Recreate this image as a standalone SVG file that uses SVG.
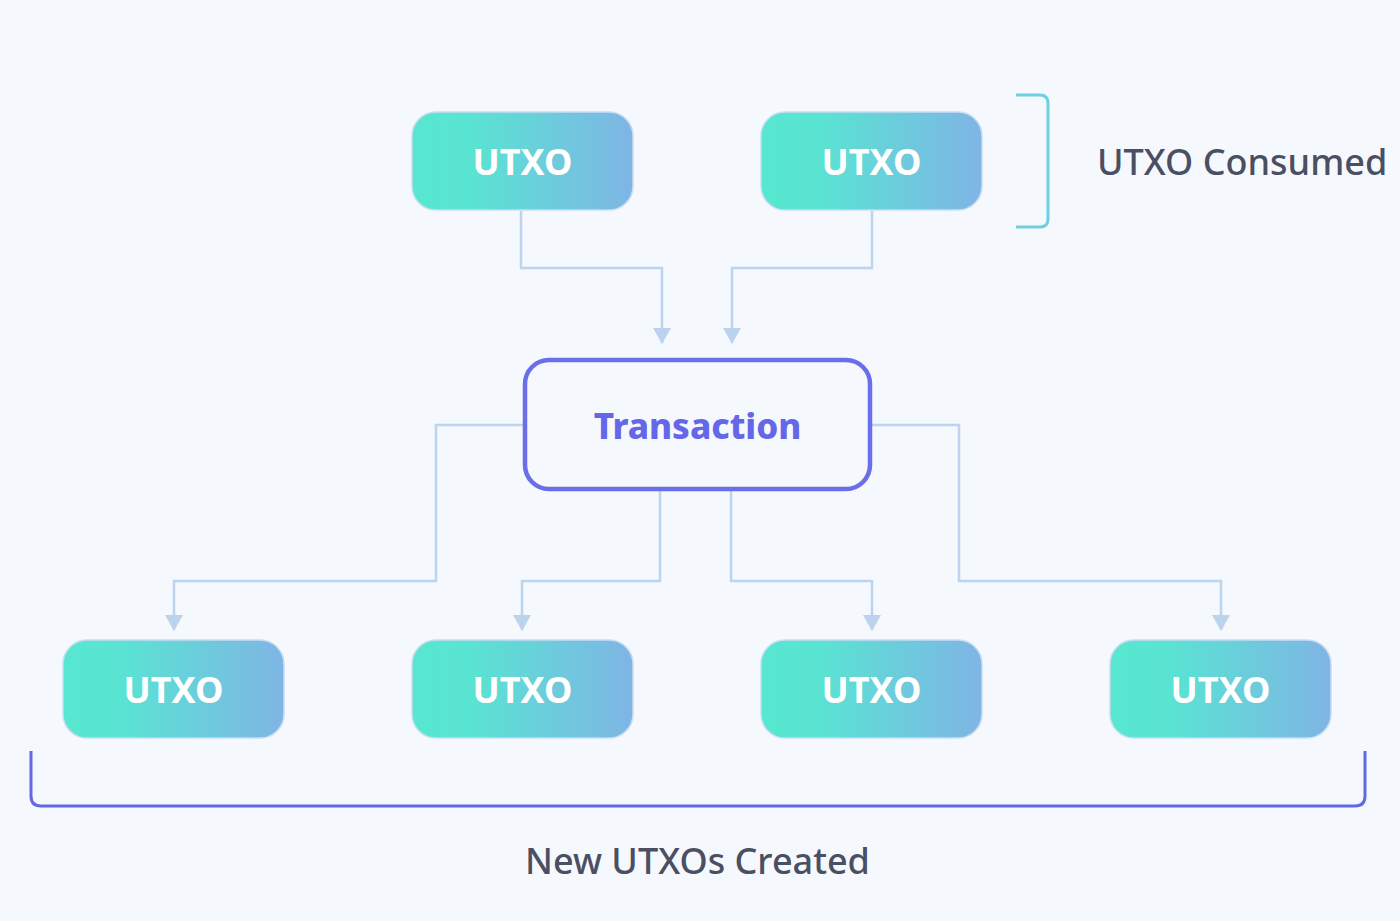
<svg xmlns="http://www.w3.org/2000/svg" width="1400" height="921" viewBox="0 0 1400 921">
<defs>
<linearGradient id="g" x1="0" y1="0" x2="1" y2="0">
<stop offset="0" stop-color="#57e7d0"/>
<stop offset="0.25" stop-color="#59e4d2"/>
<stop offset="1" stop-color="#7fb5e5"/>
</linearGradient>
<marker id="ah" markerWidth="16" markerHeight="18" refX="15" refY="9" orient="auto" markerUnits="userSpaceOnUse">
<path d="M0,0 L16,9 L0,18 z" fill="#bcd3ee"/>
</marker>
<style>
.utxo rect{fill:url(#g);stroke:#c9dcf3;stroke-width:1.5}
.utxo text{font-family:"Noto Sans","Liberation Sans",sans-serif;font-size:36px;font-weight:700;fill:#ffffff;text-anchor:middle}
.conn path{fill:none;stroke:#bdd4ee;stroke-width:2.5}
.lbl{font-family:"Noto Sans","Liberation Sans",sans-serif;font-size:36px;font-weight:500;fill:#4a4f62}
</style>
</defs>
<rect width="1400" height="921" fill="#f5f8fd"/>

<g id="connectors" class="conn">
<path d="M521,211 V268 H662 V343" marker-end="url(#ah)"/>
<path d="M872,211 V268 H732 V343" marker-end="url(#ah)"/>
<path d="M523,425 H436 V581 H174 V630" marker-end="url(#ah)"/>
<path d="M660,490 V581 H522 V630" marker-end="url(#ah)"/>
<path d="M731,490 V581 H872 V630" marker-end="url(#ah)"/>
<path d="M872,425 H959 V581 H1221 V630" marker-end="url(#ah)"/>
</g>

<g id="utxo-in-1" class="utxo">
<rect x="412" y="112" width="221" height="98" rx="24"/>
<text x="522.5" y="175">UTXO</text>
</g>
<g id="utxo-in-2" class="utxo">
<rect x="761" y="112" width="221" height="98" rx="24"/>
<text x="871.5" y="175">UTXO</text>
</g>

<g id="transaction">
<rect x="525" y="360" width="345" height="129" rx="24" fill="#f5f8fd" stroke="#6a6ee9" stroke-width="4.5"/>
<text x="697.5" y="439" font-family="'Noto Sans','Liberation Sans',sans-serif" font-size="35" font-weight="800" fill="#6467e8" text-anchor="middle">Transaction</text>
</g>

<g id="utxo-out-1" class="utxo">
<rect x="63" y="640" width="221" height="98" rx="24"/>
<text x="173.5" y="703">UTXO</text>
</g>
<g id="utxo-out-2" class="utxo">
<rect x="412" y="640" width="221" height="98" rx="24"/>
<text x="522.5" y="703">UTXO</text>
</g>
<g id="utxo-out-3" class="utxo">
<rect x="761" y="640" width="221" height="98" rx="24"/>
<text x="871.5" y="703">UTXO</text>
</g>
<g id="utxo-out-4" class="utxo">
<rect x="1110" y="640" width="221" height="98" rx="24"/>
<text x="1220.5" y="703">UTXO</text>
</g>

<g id="consumed-bracket">
<path d="M1016,95 H1040 Q1048,95 1048,103 V219 Q1048,227 1040,227 H1016" fill="none" stroke="#6dcfe0" stroke-width="3"/>
<text class="lbl" x="1097" y="175">UTXO Consumed</text>
</g>

<g id="created-bracket">
<path d="M31,751 V796 Q31,806 41,806 H1355 Q1365,806 1365,796 V751" fill="none" stroke="#6468e6" stroke-width="3"/>
<text class="lbl" x="697.5" y="874" text-anchor="middle">New UTXOs Created</text>
</g>
</svg>
